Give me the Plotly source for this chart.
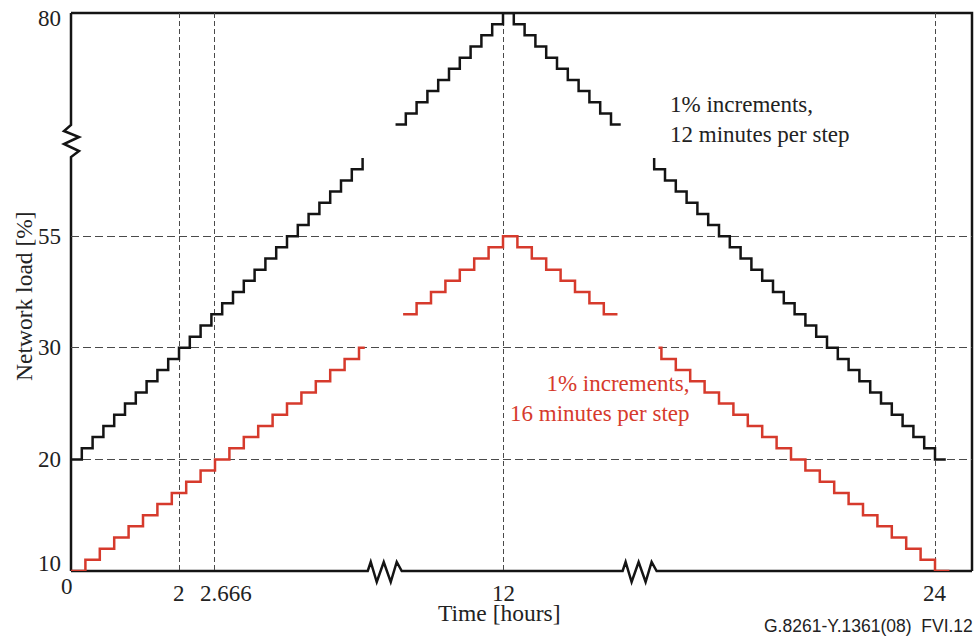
import plotly.graph_objects as go

# Schematic staircases, 1 % per step (black: 12 min per step, red: 16 min per step).
# Load is in schematic units: the axis shows 55 at 40 and 80 at 60.
black_load = [20, 21, 22, 23, 24, 25, 26, 27, 28, 29, 30, 31, 32, 33, 34, 35, 36, 37, 38, 39, 40,
              41, 42, 43, 44, 45, 46, 47, 48, 49, 50, 51, 52, 53, 54, 55, 56, 57, 58, 59, 60,
              59, 58, 57, 56, 55, 54, 53, 52, 51, 50, 49, 48, 47, 46, 45, 44, 43, 42, 41, 40,
              39, 38, 37, 36, 35, 34, 33, 32, 31, 30, 29, 28, 27, 26, 25, 24, 23, 22, 21, 20]
red_load = [10, 11, 12, 13, 14, 15, 16, 17, 18, 19, 20, 21, 22, 23, 24, 25, 26, 27, 28, 29, 30,
            31, 32, 33, 34, 35, 36, 37, 38, 39, 40,
            39, 38, 37, 36, 35, 34, 33, 32, 31, 30, 29, 28, 27, 26, 25, 24, 23, 22, 21, 20,
            19, 18, 17, 16, 15, 14, 13, 12, 11, 10]
BLACK_STEP_H = 12 / 60
RED_STEP_H = 16 / 60

# parts of each staircase that are shown (gaps sit at the axis breaks)
black_spans = [(0.0, 5.401), (6.01, 10.18), (10.799, 16.2)]
red_spans = [(0.0, 5.44), (6.15, 10.12), (10.88, 16.27)]

y_tick_pos = [10, 20, 30, 40, 60]
y_tick_text = ["10", "20", "30", "55", "80"]
x_tick_pos = [0, 2, 2.666, 8, 16]
x_tick_text = ["0", "2", "2.666", "12", "24"]

BLACK = "#141414"
RED = "#d63a2c"
TEXT = "#222222"
SERIF = "Liberation Serif, Times New Roman, serif"

W, H = 976, 637
X0, Y0, X1, Y1 = 71, 13, 972, 571          # plot area in pixels
PW, PH = X1 - X0, Y1 - Y0
X_MAX = PW / 54  # 54 px per hour on the schematic axis


def staircase(levels, step, spans):
    xs, ys = [], []
    for t0, t1 in spans:
        for i, lv in enumerate(levels):
            a = max(i * step, t0)
            b = min((i + 1) * step, t1)
            if a < b:
                xs += [a, b]
                ys += [lv, lv]
        xs.append(None)
        ys.append(None)
    return xs, ys


fig = go.Figure()
for levels, step, spans, color in [
    (black_load, BLACK_STEP_H, black_spans, BLACK),
    (red_load, RED_STEP_H, red_spans, RED),
]:
    xs, ys = staircase(levels, step, spans)
    fig.add_trace(go.Scatter(x=xs, y=ys, mode="lines", line=dict(color=color, width=2.5),
                             cliponaxis=False, showlegend=False, hoverinfo="skip"))


def px(wx, wy):
    """pixel -> paper coords"""
    return (wx - X0) / PW, (Y1 - wy) / PH


def path(points):
    return "M " + " L ".join(f"{x},{y}" for x, y in points)


# frame: bottom axis with two breaks, left axis with one break
zig_x = [(-17, 0), (-14, 9), (-8, -11), (-1, 9), (6, -11), (12, 9), (17, 0)]
bottom = [(0, 0)]
for t in (5.81, 10.53):
    cx = t / X_MAX
    for dx, dy in zig_x:
        bottom.append((cx + dx / PW, dy / PH))
bottom.append((1, 0))

zig_y = [(0, -16), (8, -10), (-7, -3), (8, 4), (-7, 10), (0, 16)]
cy = px(X0, 141)[1]
left = [(0, 0)]
for dx, dy in zig_y:
    left.append((dx / PW, cy + dy / PH))
left.append((0, 1))

frame = dict(type="path", xref="paper", yref="paper", line=dict(color=BLACK, width=2.5), layer="below")
fig.add_shape(path=path(bottom), **frame)
fig.add_shape(path=path(left), **frame)
fig.add_shape(path=path([(0, 1), (1, 1), (1, 0)]), **frame)

ann = []
for v, t in zip(y_tick_pos, y_tick_text):
    shift = {60: -5, 10: 8}.get(v, 0)
    ann.append(dict(x=0, xref="paper", y=v, yref="y", text=t, xanchor="right", yanchor="middle",
                    xshift=-8, yshift=shift))
for v, t in zip(x_tick_pos, x_tick_text):
    xs_ = {0: -4, 2.666: 11}.get(v, 0)
    ys_ = -1 if v == 0 else -8
    ann.append(dict(x=v, xref="x", y=0, yref="paper", text=t, xanchor="center", yanchor="top",
                    xshift=xs_, yshift=ys_))
ann.append(dict(x=7.94, xref="x", y=0, yref="paper", text="Time [hours]", xanchor="center",
                yanchor="top", yshift=-27, font=dict(size=23.5)))
lx, ly = px(24, 296)
ann.append(dict(x=lx, xref="paper", y=ly, yref="paper", text="Network load [%]", textangle=-90,
                xanchor="center", yanchor="middle", font=dict(size=23.5)))
ann.append(dict(x=11.06, xref="x", y=50.5, yref="y", text="1% increments,<br>12 minutes per step",
                align="left", xanchor="left", yanchor="middle"))
ann.append(dict(x=11.5, xref="x", y=25.5, yref="y", text="1% increments,<br>16 minutes per step",
                align="right", xanchor="right", yanchor="middle", font=dict(color=RED)))
cx_, cy_ = px(975, 626)
ann.append(dict(x=cx_, xref="paper", y=cy_, yref="paper",
                text="G.8261-Y.1361(08)\u00a0 FVI.12", xanchor="right", yanchor="middle",
                font=dict(family="Liberation Sans, Arial, sans-serif", size=17.5)))
for a in ann:
    a["showarrow"] = False
    f = a.setdefault("font", {})
    f.setdefault("family", SERIF)
    f.setdefault("size", 23)
    f.setdefault("color", TEXT)

fig.update_layout(
    width=W, height=H, autosize=False,
    margin=dict(l=X0, r=W - X1, t=Y0, b=H - Y1, pad=0),
    paper_bgcolor="white", plot_bgcolor="white",
    annotations=ann,
    xaxis=dict(range=[0, X_MAX], tickvals=[2, 2.666, 8, 16], showticklabels=False, ticks="",
               showgrid=True, gridcolor="#4a4a4a", gridwidth=1, griddash="5px,3px",
               zeroline=False, showline=False, fixedrange=True),
    yaxis=dict(range=[10, 60], tickvals=[20, 30, 40], showticklabels=False, ticks="",
               showgrid=True, gridcolor="#4a4a4a", gridwidth=1, griddash="8px,4px",
               zeroline=False, showline=False, fixedrange=True),
)

# the figure fills the whole window, so drop the page's default body margin
fig.write_html("out.html", config={"displayModeBar": False},
               post_script="document.body.style.margin='0';"
                           "document.body.style.overflow='hidden';")
